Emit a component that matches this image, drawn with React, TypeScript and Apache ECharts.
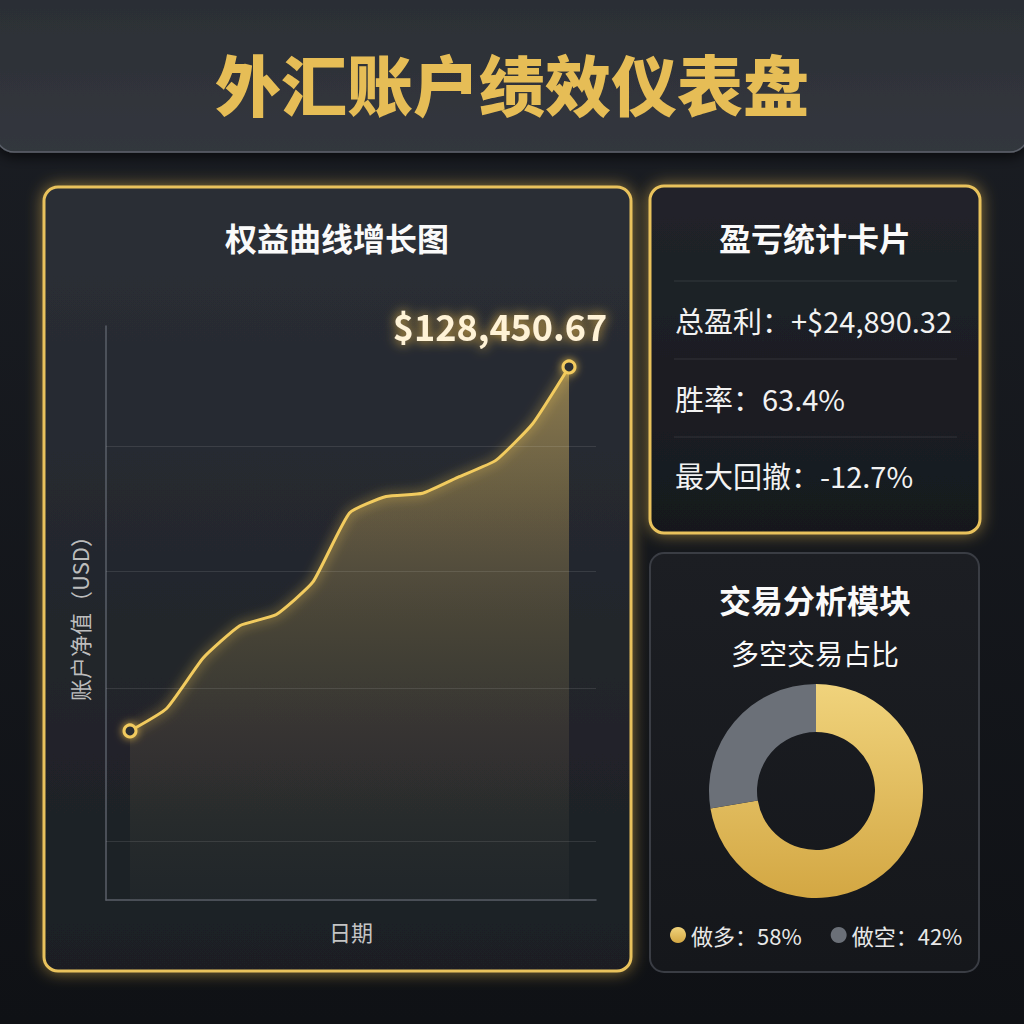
import React, { useEffect, useRef } from "react";
import * as echarts from "echarts";

const dashboardTitle = "外汇账户绩效仪表盘";
const equityTitle = "权益曲线增长图";
const statsTitle = "盈亏统计卡片";
const tradeTitle = "交易分析模块";
const tradeSubtitle = "多空交易占比";
const yAxisName = "账户净值（USD）";
const xAxisName = "日期";

const periods = [0, 1, 2, 3, 4, 5, 6, 7, 8, 9, 10, 11, 12];
const equityValues = [
  103560.35, 105095, 108548, 110757, 111523, 113745, 118463, 119591, 119810,
  120946, 122060, 124549, 128450.67,
];
const gridValues = [96000, 106500, 114500, 123000];

const statNames = ["总盈利", "胜率", "最大回撤"];
const statValues = ["+$24,890.32", "63.4%", "-12.7%"];

const sideNames = ["做多", "做空"];
const sliceShares = [72.4, 27.6];
const legendShares = ["58%", "42%"];

const FONT = '"Noto Sans CJK SC", "Noto Sans", sans-serif';
const GOLD = "#F2CB5E";

export default function App() {
  const ref = useRef<HTMLDivElement>(null);
  useEffect(() => {
    if (!ref.current) return;
    const chart = echarts.init(ref.current, undefined, { renderer: "svg" });
    const LG = echarts.graphic.LinearGradient;

    const panelGlow = {
      shadowBlur: 16,
      shadowColor: "rgba(236,190,80,0.55)",
    };

    const lastIdx = equityValues.length - 1;
    const lineData = equityValues.map((v, i) => {
      const isEnd = i === 0 || i === lastIdx;
      const item: any = {
        value: [periods[i], v],
        symbol: isEnd ? "circle" : "none",
        symbolSize: isEnd ? 12 : 0,
      };
      if (i === lastIdx) {
        item.label = {
          show: true,
          position: "top",
          distance: 5,
          offset: [-69, -11],
          formatter: () =>
            "$" +
            v.toLocaleString("en-US", {
              minimumFractionDigits: 2,
              maximumFractionDigits: 2,
            }),
          color: "#FFF3D6",
          fontSize: 36,
          fontWeight: "bold",
          fontFamily: FONT,
          textShadowColor: "rgba(240,190,70,0.95)",
          textShadowBlur: 12,
        };
      }
      return item;
    });

    const statTexts = statNames.map((n, i) => ({
      type: "text",
      z: 10,
      x: 675,
      y: [320, 398, 475][i],
      style: {
        text: `${n}：${statValues[i]}`,
        fill: "#F2F2F2",
        fontSize: 29,
        fontFamily: FONT,
        align: "left",
        verticalAlign: "middle",
        shadowColor: "rgba(0,0,0,0.6)",
        shadowBlur: 3,
        shadowOffsetY: 2,
      },
    }));

    const dividers = [281, 359, 437].map((y) => ({
      type: "line",
      z: 5,
      shape: { x1: 674, y1: y, x2: 957, y2: y },
      style: { stroke: "rgba(255,255,255,0.1)", lineWidth: 1 },
    }));

    const titleText = (text: string, x: number, y: number, size: number, weight: any) => ({
      type: "text",
      z: 10,
      x,
      y,
      style: {
        text,
        fill: "#FAFAFA",
        fontSize: size,
        fontWeight: weight,
        fontFamily: FONT,
        align: "center",
        verticalAlign: "middle",
        shadowColor: "rgba(0,0,0,0.7)",
        shadowBlur: 4,
        shadowOffsetY: 2,
      },
    });

    chart.setOption({
      animation: false,
      backgroundColor: "transparent",
      graphic: [
        {
          type: "rect",
          z: -20,
          shape: { x: 0, y: 0, width: 1024, height: 1024 },
          style: {
            fill: new LG(0, 0, 0, 1, [
              { offset: 0, color: "#1b1e24" },
              { offset: 1, color: "#0f1115" },
            ]),
          },
        },
        {
          type: "rect",
          z: -15,
          shape: { x: -4, y: -30, width: 1032, height: 182, r: 18 },
          style: {
            fill: new LG(0, 0, 0, 1, [
              { offset: 0, color: "#2a2d33" },
              { offset: 1, color: "#33373e" },
            ]),
            stroke: "rgba(130,135,145,0.55)",
            lineWidth: 1.5,
            shadowBlur: 14,
            shadowColor: "rgba(0,0,0,0.7)",
            shadowOffsetY: 4,
          },
        },
        {
          type: "text",
          z: 10,
          x: 512,
          y: 82,
          style: {
            text: dashboardTitle,
            fill: "#E6BD56",
            fontSize: 66,
            fontWeight: 900,
            fontFamily: FONT,
            align: "center",
            verticalAlign: "middle",
            shadowColor: "rgba(0,0,0,0.75)",
            shadowBlur: 4,
            shadowOffsetY: 3,
          },
        },
        {
          type: "rect",
          z: -10,
          shape: { x: 44, y: 187, width: 587, height: 784, r: 14 },
          style: {
            fill: new LG(0, 0, 0, 1, [
              { offset: 0, color: "#2b2f36" },
              { offset: 1, color: "#1c1f24" },
            ]),
            stroke: "#E9C25C",
            lineWidth: 3,
            ...panelGlow,
          },
        },
        titleText(equityTitle, 337, 237, 32, "bold"),
        {
          type: "rect",
          z: -10,
          shape: { x: 650, y: 186, width: 330, height: 347, r: 14 },
          style: {
            fill: new LG(0, 0, 0, 1, [
              { offset: 0, color: "#21242a" },
              { offset: 1, color: "#17191e" },
            ]),
            stroke: "#E9C25C",
            lineWidth: 3,
            ...panelGlow,
          },
        },
        titleText(statsTitle, 815, 237, 32, "bold"),
        ...dividers,
        ...statTexts,
        {
          type: "rect",
          z: -10,
          shape: { x: 650, y: 553, width: 329, height: 419, r: 14 },
          style: {
            fill: new LG(0, 0, 0, 1, [
              { offset: 0, color: "#1c1e23" },
              { offset: 1, color: "#15171b" },
            ]),
            stroke: "#3a3d44",
            lineWidth: 2,
          },
        },
        titleText(tradeTitle, 815, 599, 32, "bold"),
        titleText(tradeSubtitle, 815, 653, 28, "normal"),
      ],
      grid: { left: 106, right: 428, top: 326, bottom: 124 },
      xAxis: {
        type: "value",
        min: -0.656,
        max: 12.738,
        name: xAxisName,
        nameLocation: "middle",
        nameGap: 20,
        nameTextStyle: { color: "#C4C4C4", fontSize: 22, fontFamily: FONT, verticalAlign: "top" },
        axisLine: { show: true, onZero: false, lineStyle: { color: "#5a5f68", width: 1.5 } },
        axisTick: { show: false },
        axisLabel: { show: false },
        splitLine: { show: false },
      },
      yAxis: {
        type: "value",
        min: 92000,
        max: 131250,
        name: yAxisName,
        nameLocation: "middle",
        nameRotate: 90,
        nameGap: 16,
        nameTextStyle: { color: "#BDBDBD", fontSize: 22, fontFamily: FONT },
        axisLine: { show: true, onZero: false, lineStyle: { color: "#5a5f68", width: 1.5 } },
        axisTick: { show: false },
        axisLabel: { show: false },
        splitLine: { show: false },
      },
      legend: {
        data: sideNames,
        left: 665,
        top: 919,
        icon: "circle",
        itemWidth: 16,
        itemHeight: 16,
        itemGap: 29,
        formatter: (name: string) => `${name}：${legendShares[sideNames.indexOf(name)]}`,
        textStyle: { color: "#E8E8E8", fontSize: 22, fontFamily: FONT },
        selectedMode: false,
      },
      series: [
        {
          type: "line",
          data: lineData,
          smooth: 0.15,
          z: 3,
          lineStyle: {
            color: GOLD,
            width: 3,
            shadowColor: "rgba(245,200,80,0.85)",
            shadowBlur: 12,
          },
          itemStyle: {
            color: "#2a2d33",
            borderColor: GOLD,
            borderWidth: 3,
            shadowColor: "rgba(245,200,80,0.85)",
            shadowBlur: 8,
          },
          areaStyle: {
            color: new LG(0, 0, 0, 1, [
              { offset: 0, color: "rgba(218,184,98,0.82)" },
              { offset: 0.45, color: "rgba(150,130,80,0.5)" },
              { offset: 1, color: "rgba(60,62,64,0.2)" },
            ]),
          },
          markLine: {
            silent: true,
            symbol: ["none", "none"],
            label: { show: false },
            lineStyle: { color: "rgba(255,255,255,0.1)", type: "solid", width: 1 },
            data: gridValues.map((v) => ({ yAxis: v })),
          },
          emphasis: { disabled: true },
        },
        {
          type: "pie",
          center: [816, 791],
          radius: [59, 107],
          startAngle: 90,
          clockwise: true,
          label: { show: false },
          labelLine: { show: false },
          emphasis: { disabled: true },
          data: sideNames.map((n, i) => ({
            name: n,
            value: sliceShares[i],
            itemStyle: {
              color:
                i === 0
                  ? new LG(0, 0, 0, 1, [
                      { offset: 0, color: "#F0D37C" },
                      { offset: 1, color: "#D3A743" },
                    ])
                  : "#6b7078",
            },
          })),
        },
      ],
    });
    return () => chart.dispose();
  }, []);
  return (
    <div
      ref={ref}
      style={{ position: "absolute", left: 0, top: 0, width: 1024, height: 1024 }}
    />
  );
}
